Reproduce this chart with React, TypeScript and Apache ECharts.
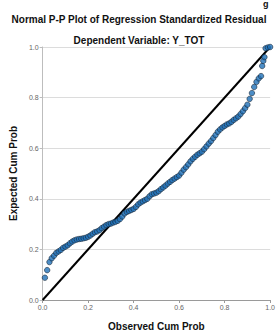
import React, { useEffect, useRef } from "react";
import * as echarts from "echarts";

const titleText = "Normal P-P Plot of Regression Standardized Residual";
const subtitleText = "Dependent Variable: Y_TOT";
const xAxisName = "Observed Cum Prob";
const yAxisName = "Expected Cum Prob";
const tickValues = [0, 0.2, 0.4, 0.6, 0.8, 1.0];

const observed = [
  0.01, 0.02, 0.03, 0.04, 0.05, 0.06, 0.07, 0.08, 0.09, 0.1,
  0.11, 0.12, 0.13, 0.14, 0.15, 0.16, 0.17, 0.18, 0.19, 0.2,
  0.21, 0.22, 0.23, 0.24, 0.25, 0.26, 0.27, 0.28, 0.29, 0.3,
  0.31, 0.32, 0.33, 0.34, 0.35, 0.36, 0.37, 0.38, 0.39, 0.4,
  0.41, 0.42, 0.43, 0.44, 0.45, 0.46, 0.47, 0.48, 0.49, 0.5,
  0.51, 0.52, 0.53, 0.54, 0.55, 0.56, 0.57, 0.58, 0.59, 0.6,
  0.61, 0.62, 0.63, 0.64, 0.65, 0.66, 0.67, 0.68, 0.69, 0.7,
  0.71, 0.72, 0.73, 0.74, 0.75, 0.76, 0.77, 0.78, 0.79, 0.8,
  0.81, 0.82, 0.83, 0.84, 0.85, 0.86, 0.87, 0.88, 0.89, 0.9,
  0.91, 0.92, 0.93, 0.94, 0.95, 0.96, 0.965, 0.97, 0.975, 0.98,
  0.99, 1.0,
];
const expected = [
  0.088, 0.118, 0.15, 0.165, 0.175, 0.186, 0.192, 0.198, 0.206, 0.211,
  0.216, 0.224, 0.231, 0.236, 0.239, 0.241, 0.242, 0.244, 0.246, 0.25,
  0.255, 0.262, 0.268, 0.271, 0.276, 0.284, 0.29, 0.296, 0.3, 0.302,
  0.306, 0.309, 0.313, 0.32, 0.33, 0.342, 0.348, 0.352, 0.356, 0.36,
  0.368, 0.378, 0.385, 0.39, 0.395, 0.4, 0.41, 0.418, 0.421, 0.424,
  0.43, 0.438, 0.445, 0.452, 0.46, 0.467, 0.474, 0.48, 0.486, 0.492,
  0.503, 0.515, 0.525, 0.536, 0.548, 0.558, 0.566, 0.574, 0.58, 0.586,
  0.596, 0.607, 0.618, 0.628, 0.64, 0.652, 0.665, 0.674, 0.682, 0.688,
  0.694, 0.698, 0.704, 0.712, 0.718, 0.725, 0.735, 0.746, 0.758, 0.772,
  0.795, 0.818, 0.842, 0.862, 0.876, 0.885, 0.925, 0.945, 0.96, 0.995,
  0.998, 1.0,
];
const diagonal = [
  [0, 0],
  [1, 1],
];

export default function App() {
  const ref = useRef<HTMLDivElement>(null);
  useEffect(() => {
    if (!ref.current) return;
    const chart = echarts.init(ref.current, undefined, { renderer: "svg" });
    const font = "Liberation Sans, Arial, sans-serif";
    chart.setOption({
      animation: false,
      backgroundColor: "#ffffff",
      title: [
        {
          text: titleText,
          left: "center",
          top: 9,
          textStyle: { fontFamily: font, fontSize: 10, fontWeight: "bold", color: "#111" },
        },
        {
          text: subtitleText,
          left: "center",
          top: 30,
          textStyle: { fontFamily: font, fontSize: 10, fontWeight: "bold", color: "#111" },
        },
      ],
      graphic: [
        {
          type: "text",
          left: 263,
          top: -1,
          style: { text: "g", font: "bold 9px Liberation Sans, Arial, sans-serif", fill: "#111" },
        },
      ],
      grid: { left: 40, right: 5, top: 47, bottom: 32, containLabel: false },
      xAxis: {
        type: "value",
        min: 0,
        max: 1,
        interval: 0.2,
        name: xAxisName,
        nameLocation: "middle",
        nameGap: 21,
        nameTextStyle: { fontFamily: font, fontSize: 10, fontWeight: "bold", color: "#111" },
        axisLine: { show: true, lineStyle: { color: "#9a9a9a", width: 1 } },
        axisTick: { show: true, length: 3, lineStyle: { color: "#9a9a9a" } },
        axisLabel: {
          fontFamily: font,
          fontSize: 7,
          color: "#666",
          margin: 4,
          formatter: (v: number) => (tickValues.includes(v) ? v.toFixed(1) : ""),
        },
        splitLine: { show: false },
      },
      yAxis: {
        type: "value",
        min: 0,
        max: 1,
        interval: 0.2,
        name: yAxisName,
        nameLocation: "middle",
        nameGap: 24,
        nameTextStyle: { fontFamily: font, fontSize: 10, fontWeight: "bold", color: "#111" },
        axisLine: { show: true, lineStyle: { color: "#bdbdbd", width: 1 } },
        axisTick: { show: true, length: 3, lineStyle: { color: "#bdbdbd" } },
        axisLabel: {
          fontFamily: font,
          fontSize: 7,
          color: "#666",
          margin: 4,
          formatter: (v: number) => v.toFixed(1),
        },
        splitLine: { show: true, lineStyle: { color: "#dcdcdc", width: 1 } },
      },
      series: [
        {
          type: "line",
          data: diagonal,
          symbol: "none",
          lineStyle: { color: "#000", width: 2 },
          z: 2,
        },
        {
          type: "scatter",
          data: observed.map((x, i) => [x, expected[i]]),
          symbolSize: 5.5,
          itemStyle: { color: "#1f70b8", borderColor: "#14202e", borderWidth: 0.7 },
          z: 3,
        },
      ],
    });
    return () => chart.dispose();
  }, []);
  return <div ref={ref} style={{ width: 278, height: 336, position: "absolute", left: 0, top: 0 }} />;
}
